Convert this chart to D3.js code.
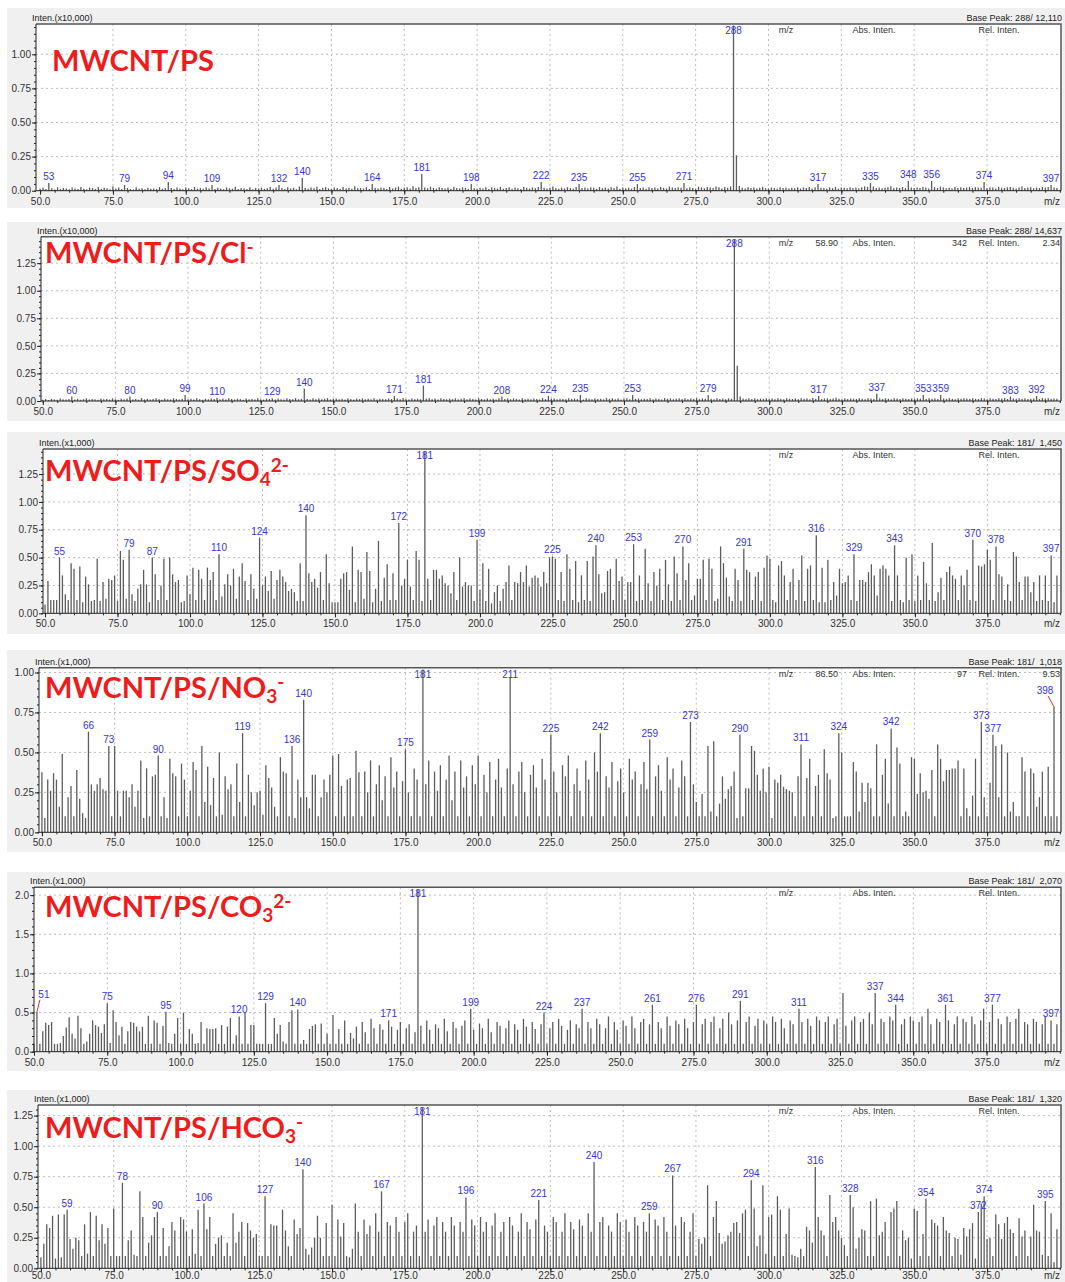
<!DOCTYPE html>
<html>
<head>
<meta charset="utf-8">
<script src="https://cdn.jsdelivr.net/npm/d3@7"></script>
<style>
  body { margin: 0; background: #fff; }
  svg { display: block; }
</style>
</head>
<body>
<div id="chart"></div>
<script>
// one bar per unit mass, first bar at m/z 50, last at 399 (absolute counts)
var MZ_START = 50;

var psInten = [
  150,220,120,560,180,90,250,130,200,160,
  110,240,170,130,280,150,100,230,190,120,
  260,140,210,180,110,300,160,240,130,420,
  200,120,90,250,150,180,110,220,140,170,
  120,260,150,190,640,200,130,240,160,110,
  230,180,120,270,150,200,140,250,170,420,
  130,210,160,110,240,180,150,290,120,200,
  170,130,250,110,200,160,230,140,180,280,
  150,240,420,190,130,260,170,220,110,300,
  930,200,150,240,180,290,130,210,260,170,
  140,230,190,120,270,160,210,140,330,180,
  200,150,260,130,490,220,170,240,190,120,
  280,160,230,300,140,210,250,170,330,200,
  260,1220,240,180,290,210,150,260,200,170,
  230,140,270,190,160,250,210,130,490,180,
  150,220,170,260,130,240,190,160,280,140,
  200,250,150,230,180,130,270,210,160,240,
  190,270,640,210,160,240,300,180,140,230,
  170,260,200,150,280,490,190,230,160,250,
  210,140,270,180,230,160,250,200,300,150,
  240,180,220,160,270,490,200,230,150,260,
  190,240,170,280,210,160,300,230,190,250,
  220,560,180,260,200,150,290,240,180,270,
  230,190,300,250,160,280,220,310,12110,2600,
  350,210,170,260,200,240,160,220,280,190,
  170,230,200,150,260,190,240,160,220,180,
  250,160,230,200,280,170,260,490,220,190,
  150,240,190,270,160,230,210,180,250,200,
  230,170,260,320,280,560,300,190,240,180,
  210,260,330,180,240,200,270,190,710,230,
  190,240,200,280,230,170,710,260,190,300,
  240,180,220,160,270,200,250,190,230,280,
  200,260,240,210,640,190,250,230,170,280,
  220,190,250,270,210,170,240,300,200,230,
  260,180,230,200,270,240,280,420,230,190
];

var clInten = [
  120,180,90,200,150,110,230,160,130,190,
  400,140,210,120,170,250,130,190,160,110,
  220,150,180,130,240,160,110,200,170,230,
  400,140,190,120,260,150,210,130,180,240,
  160,120,220,170,140,250,180,130,200,550,
  150,210,130,240,170,120,200,160,230,190,
  300,150,220,130,260,180,140,210,170,120,
  230,160,190,140,250,170,120,210,180,250,
  140,220,170,130,240,190,150,260,160,210,
  1100,180,130,240,170,220,150,200,260,140,
  190,230,160,210,140,250,180,130,220,170,
  240,150,200,170,260,130,210,190,160,230,
  180,450,220,150,270,190,140,230,170,210,
  160,1400,200,250,170,220,140,260,190,150,
  210,170,240,130,200,260,160,220,180,140,
  250,190,150,230,170,210,140,260,400,180,
  220,160,240,190,130,250,170,210,150,230,
  190,140,260,170,450,200,230,160,210,180,
  150,240,190,220,170,550,140,260,200,170,
  230,180,210,150,260,190,240,170,220,140,
  200,250,170,550,190,230,160,210,180,240,
  170,220,190,140,260,200,230,170,210,250,
  180,240,160,220,190,260,170,230,200,550,
  210,170,250,190,230,160,240,200,14637,3200,
  400,220,180,260,190,240,170,220,200,250,
  190,230,170,260,200,150,240,210,180,230,
  170,250,200,220,160,270,210,450,190,230,
  240,180,220,300,200,170,250,190,230,210,
  180,240,210,170,260,220,190,650,230,180,
  250,200,170,240,220,190,260,210,180,230,
  200,240,220,550,190,260,210,230,180,550,
  230,190,250,210,170,240,200,260,220,190,
  240,200,180,260,230,170,250,210,190,240,
  220,260,190,400,230,200,250,210,240,180,
  200,230,450,190,260,220,240,200,230,210
];

var so4Inten = [
  80,290,120,120,120,500,340,170,120,450,
  400,120,420,100,330,260,110,120,490,110,
  280,130,310,300,340,110,560,480,130,570,
  170,110,220,260,390,260,100,500,350,120,
  250,490,120,500,350,280,300,100,110,340,
  170,410,120,390,310,120,410,300,370,120,
  530,150,260,350,250,400,130,330,450,290,
  120,350,220,130,680,250,330,200,380,130,
  300,390,330,280,200,220,190,110,450,110,
  880,360,280,310,230,370,120,530,270,100,
  100,100,310,360,370,210,600,100,390,370,
  130,550,380,100,220,650,110,320,440,120,
  360,120,810,250,310,480,240,120,560,480,
  110,1450,310,120,390,390,310,340,270,250,
  180,370,120,500,240,280,250,250,110,660,
  210,450,110,400,90,190,250,110,220,280,
  430,120,280,270,370,280,430,240,320,340,
  320,240,370,270,500,510,490,120,370,110,
  530,400,120,470,100,340,120,470,110,510,
  610,350,180,190,380,400,120,490,290,330,
  120,280,280,620,110,340,120,580,270,110,
  370,250,400,120,480,260,110,510,360,120,
  600,300,450,120,160,310,310,480,120,490,
  400,110,130,600,450,320,150,110,400,300,
  110,580,390,370,120,330,370,110,410,520,
  490,120,100,430,470,340,120,280,400,120,
  300,520,110,400,430,120,700,100,410,100,
  480,120,280,160,400,270,280,340,120,530,
  110,300,300,280,370,440,340,160,400,430,
  400,340,110,610,340,120,100,500,120,530,
  110,340,120,460,270,120,630,110,190,320,
  120,370,420,340,310,120,340,250,390,120,
  660,110,430,420,440,570,480,120,600,350,
  330,120,260,110,550,510,280,120,330,330,
  190,280,110,340,120,340,110,520,100,340
];

var no3Inten = [
  375,90,330,260,370,330,160,490,100,220,
  290,100,390,210,120,90,630,300,260,300,
  340,270,260,540,100,540,260,100,260,260,
  220,300,160,260,450,90,400,100,350,360,
  480,100,220,90,460,370,350,100,430,330,
  100,260,440,390,100,540,190,410,170,340,
  100,500,110,350,270,300,100,430,190,620,
  100,360,250,170,250,260,110,420,340,280,
  160,100,470,380,370,100,540,90,330,220,
  830,220,150,360,360,100,220,330,250,360,
  480,100,490,290,100,330,340,100,510,375,
  100,380,250,450,100,300,420,200,350,100,
  470,280,380,100,320,520,250,100,400,330,
  100,1018,300,450,100,380,260,420,100,330,
  480,200,380,100,450,280,350,100,420,300,
  480,100,360,250,440,100,330,460,280,100,
  400,970,300,100,380,440,250,100,360,420,
  280,100,460,330,100,610,380,250,100,420,
  350,480,100,300,400,260,100,450,330,100,
  500,380,620,100,350,280,440,100,320,400,
  250,100,460,330,380,100,300,440,270,580,
  100,350,420,260,100,470,330,400,100,280,
  450,350,100,690,300,190,100,240,100,540,
  130,570,100,180,350,210,270,290,380,90,
  610,100,275,275,540,510,360,260,400,250,
  410,90,330,310,360,285,270,260,250,100,
  350,550,100,340,460,100,290,360,100,520,
  370,330,90,100,620,500,100,100,100,440,
  380,130,310,190,310,275,100,550,100,360,
  460,180,650,100,530,430,100,130,100,470,
  460,240,370,250,260,210,390,100,550,460,
  320,390,390,400,400,450,100,400,150,100,
  230,460,100,690,220,100,310,610,540,220,
  550,100,500,130,190,100,100,470,380,100,
  400,370,160,220,380,100,410,100,785,100
];

var co3Inten = [
  100,510,100,260,370,340,380,100,100,110,
  200,310,440,230,170,460,300,100,130,230,
  400,340,320,240,350,620,110,530,380,210,
  320,100,260,380,370,320,260,320,100,460,
  100,400,370,100,330,510,110,100,230,430,
  100,500,100,290,230,100,110,380,100,300,
  290,290,300,100,340,100,320,430,100,210,
  450,100,500,100,340,340,100,100,100,620,
  100,100,430,230,340,130,100,380,530,100,
  540,100,150,100,290,330,350,100,360,100,
  230,100,470,100,290,100,400,100,240,170,
  320,100,380,250,100,420,300,100,350,280,
  100,400,320,100,280,380,100,300,350,100,
  250,2070,330,100,400,280,100,350,300,100,
  420,260,100,380,300,100,330,400,100,550,
  280,100,360,300,100,420,250,100,380,330,
  100,300,400,100,350,280,100,420,320,100,
  380,290,100,350,500,100,300,380,100,420,
  330,100,280,400,100,350,300,550,100,380,
  300,100,420,350,100,300,450,100,380,280,
  100,400,330,100,450,300,100,380,420,100,
  350,600,100,380,300,100,450,330,100,400,
  350,100,420,300,100,380,600,100,350,420,
  100,380,450,100,300,420,100,500,350,100,
  400,650,100,380,450,100,330,420,100,400,
  350,100,450,380,100,420,300,100,400,350,
  100,550,380,100,420,330,100,450,400,100,
  380,450,100,350,420,100,750,330,100,400,
  450,100,380,420,100,500,350,750,100,420,
  380,100,450,400,600,100,350,420,100,450,
  400,100,380,450,100,550,350,100,420,380,
  100,600,400,100,350,450,100,420,380,100,
  450,350,100,400,550,100,380,600,100,420,
  350,100,450,380,100,420,550,100,380,350,
  100,420,380,100,350,450,100,400,100,350
];

var hco3Inten = [
  90,200,360,330,430,80,440,90,440,480,
  240,160,250,230,100,360,120,460,100,430,
  230,360,200,330,100,490,100,100,700,100,
  230,310,110,100,630,420,100,210,270,420,
  460,100,330,100,180,380,310,100,420,400,
  300,100,320,120,480,100,530,320,420,100,
  200,250,270,100,210,100,450,210,300,380,
  100,370,310,250,280,100,100,590,100,360,
  350,350,100,480,310,180,100,400,280,330,
  810,160,110,170,250,430,250,100,370,100,
  520,100,400,260,370,100,90,160,530,300,
  100,400,280,350,100,450,300,630,100,380,
  350,100,420,300,100,380,450,100,300,350,
  100,1320,300,400,100,350,420,100,380,300,
  100,420,350,100,380,300,580,100,400,350,
  100,420,300,380,100,350,450,100,300,380,
  100,420,350,100,300,450,100,380,320,100,
  400,560,100,350,300,100,420,380,100,300,
  450,100,380,320,100,400,350,100,450,300,
  870,100,380,420,100,350,300,100,450,380,
  100,400,300,100,420,350,100,380,300,450,
  100,400,350,100,420,300,100,760,350,100,
  420,380,100,300,450,100,240,200,250,680,
  100,420,550,290,200,220,270,300,370,380,
  290,450,480,100,720,490,180,270,680,120,
  420,440,100,590,480,100,280,490,110,100,
  90,160,100,340,310,210,830,420,310,270,
  100,600,380,420,310,250,190,100,600,500,
  160,250,320,310,100,550,100,570,270,300,
  380,100,460,490,550,100,310,230,250,80,
  490,470,100,280,570,100,400,370,350,100,
  420,310,290,100,250,240,110,330,260,320,
  370,80,460,530,590,240,250,100,440,360,
  240,370,420,320,290,100,410,260,310,100,
  260,520,310,300,110,550,100,450,50,320
];

// labelled peaks (m/z)
var psLabels = [53,79,94,109,132,140,164,181,198,222,235,255,271,288,317,335,348,356,374,397];
var clLabels = [60,80,99,110,129,140,171,181,208,224,235,253,279,288,317,337,353,359,383,392];
var so4Labels = [55,79,87,110,124,140,172,181,199,225,240,253,270,291,316,329,343,370,378,397];
var no3Labels = [66,73,90,119,136,140,175,181,211,225,242,259,273,290,311,324,342,373,377,398];
var co3Labels = [51,75,95,120,129,140,171,181,199,224,237,261,276,291,311,337,344,361,377,397];
var hco3Labels = [59,78,90,106,127,140,167,181,196,221,240,259,267,294,316,328,354,372,374,395];

// panel texts
var titleParts = [
  [["MWCNT/PS", 0]],
  [["MWCNT/PS/Cl", 0], ["-", 1]],
  [["MWCNT/PS/SO", 0], ["4", -1], ["2-", 1]],
  [["MWCNT/PS/NO", 0], ["3", -1], ["-", 1]],
  [["MWCNT/PS/CO", 0], ["3", -1], ["2-", 1]],
  [["MWCNT/PS/HCO", 0], ["3", -1], ["-", 1]]
];
var scaleText = ["Inten.(x10,000)", "Inten.(x10,000)", "Inten.(x1,000)", "Inten.(x1,000)", "Inten.(x1,000)", "Inten.(x1,000)"];
var scaleFactor = [10000, 10000, 1000, 1000, 1000, 1000];
var basePeakText = ["Base Peak: 288/ 12,110", "Base Peak: 288/ 14,637", "Base Peak: 181/  1,450",
                    "Base Peak: 181/  1,018", "Base Peak: 181/  2,070", "Base Peak: 181/  1,320"];
var cursorValues = [null, ["58.90", "342", "2.34"], null, ["86.50", "97", "9.53"], null, null];
var yTicks = [
  [0, 0.25, 0.5, 0.75, 1.0],
  [0, 0.25, 0.5, 0.75, 1.0, 1.25],
  [0, 0.25, 0.5, 0.75, 1.0, 1.25],
  [0, 0.25, 0.5, 0.75, 1.0],
  [0, 0.5, 1.0, 1.5, 2.0],
  [0, 0.25, 0.5, 0.75, 1.0, 1.25]
];
var yMax = [1.222, 1.49, 1.475, 1.03, 2.1, 1.337];
var xTicks = [50, 75, 100, 125, 150, 175, 200, 225, 250, 275, 300, 325, 350, 375];

var intenSeries = [psInten, clInten, so4Inten, no3Inten, co3Inten, hco3Inten];
var labelSeries = [psLabels, clLabels, so4Labels, no3Labels, co3Labels, hco3Labels];

// layout of each panel on the page
var layout = [
  {bgTop: 8,    bgBottom: 208,  left: 36, top: 24,    bottom: 190.7,  lo: 48.6, titleX: 52, titleY: 71,   pad: 3},
  {bgTop: 222,  bgBottom: 421,  left: 41, top: 236.7, bottom: 401,    lo: 49.4, titleX: 45, titleY: 263,  pad: 3},
  {bgTop: 432,  bgBottom: 634,  left: 43, top: 449,   bottom: 613.3,  lo: 49.3, titleX: 45, titleY: 481,  pad: 3},
  {bgTop: 650,  bgBottom: 852,  left: 39, top: 667.7, bottom: 832.3,  lo: 49.0, titleX: 45, titleY: 698,  pad: 3},
  {bgTop: 872,  bgBottom: 1071, left: 34, top: 887.3, bottom: 1051.7, lo: 50.0, titleX: 45, titleY: 917,  pad: 3},
  {bgTop: 1090, bgBottom: 1282, left: 38, top: 1105,  bottom: 1268.3, lo: 49.0, titleX: 45, titleY: 1138, pad: 0}
];
var RIGHT = 1061, MZ_MAX = 400.4;
// labels moved off their peak with a red leader line
var leaders = [{}, {}, {}, {398: {dx: -9, dy: -13, lx: -6, ly: -11}}, {51: {dx: 7, dy: -14, lx: 3, ly: -12}}, {}];

var axisFont = "'Liberation Sans', Arial, sans-serif";

var svg = d3.select("#chart").append("svg")
    .attr("width", 1065)
    .attr("height", 1282);

layout.forEach(function (L, i) { drawPanel(L, i); });

function drawPanel(L, i) {
    var g = svg.append("g");
    var scale = scaleFactor[i];

    var x = d3.scaleLinear().domain([L.lo, MZ_MAX]).range([L.left, RIGHT]);
    var y = d3.scaleLinear().domain([0, yMax[i]]).range([L.bottom, L.top]);

    g.append("rect")
        .attr("x", 7).attr("y", L.bgTop)
        .attr("width", 1065 - 7).attr("height", L.bgBottom - L.bgTop)
        .attr("fill", "#f0f0f0");
    g.append("rect")
        .attr("x", L.left).attr("y", L.top)
        .attr("width", RIGHT - L.left).attr("height", L.bottom - L.top)
        .attr("fill", "#fff");

    // dotted grid
    g.append("g").selectAll("line.h")
        .data(yTicks[i].filter(d => d > 0))
        .enter().append("line")
            .attr("x1", L.left).attr("x2", RIGHT)
            .attr("y1", d => y(d)).attr("y2", d => y(d))
            .attr("stroke", "#bdbdbd").attr("stroke-dasharray", "2,3");
    g.append("g").selectAll("line.v")
        .data(xTicks.filter(d => d > 60))
        .enter().append("line")
            .attr("x1", d => x(d)).attr("x2", d => x(d))
            .attr("y1", L.top).attr("y2", L.bottom)
            .attr("stroke", "#bdbdbd").attr("stroke-dasharray", "2,3");

    // header inside the plot
    var head = g.append("g").attr("font-family", axisFont).attr("font-size", 9).attr("fill", "#333");
    var hy = L.top + 9;
    head.append("text").attr("x", 786).attr("y", hy).attr("text-anchor", "middle").text("m/z");
    head.append("text").attr("x", 874).attr("y", hy).attr("text-anchor", "middle").text("Abs. Inten.");
    head.append("text").attr("x", 999).attr("y", hy).attr("text-anchor", "middle").text("Rel. Inten.");
    if (cursorValues[i]) {
        head.append("text").attr("x", 838).attr("y", hy).attr("text-anchor", "end").text(cursorValues[i][0]);
        head.append("text").attr("x", 967).attr("y", hy).attr("text-anchor", "end").text(cursorValues[i][1]);
        head.append("text").attr("x", 1060).attr("y", hy).attr("text-anchor", "end").text(cursorValues[i][2]);
    }

    // spectrum bars
    var bars = intenSeries[i].map(function (v, k) { return {mz: MZ_START + k, v: v / scale}; });
    g.append("g").selectAll("line")
        .data(bars)
        .enter().append("line")
            .attr("x1", d => x(d.mz)).attr("x2", d => x(d.mz))
            .attr("y1", y(0)).attr("y2", d => y(Math.min(d.v, yMax[i])))
            .attr("stroke", "#5c5c5c")
            .attr("stroke-width", 1.3);

    // frame
    g.append("path")
        .attr("d", "M" + L.left + "," + L.top + "H" + RIGHT + "V" + L.bottom)
        .attr("fill", "none").attr("stroke", "#555").attr("stroke-width", 1.5);

    // axes
    var yFmt = i === 4 ? d3.format(".1f") : d3.format(".2f");
    var minorStep = i === 4 ? 0.1 : 0.05;
    var yMinor = d3.range(0, yMax[i] + 1e-9, minorStep);
    g.append("g")
        .attr("transform", "translate(" + L.left + ",0)")
        .call(d3.axisLeft(y).tickValues(yMinor).tickSize(2).tickFormat(""))
        .call(a => a.select(".domain").remove());
    var ya = g.append("g")
        .attr("transform", "translate(" + L.left + ",0)")
        .call(d3.axisLeft(y).tickValues(yTicks[i]).tickSize(4).tickPadding(1).tickFormat(yFmt));
    ya.select(".domain").attr("d", "M0," + L.top + "V" + L.bottom);

    g.append("g")
        .attr("transform", "translate(0," + L.bottom + ")")
        .call(d3.axisBottom(x).tickValues(d3.range(50, 401, 5)).tickSize(2).tickFormat(""))
        .call(a => a.select(".domain").remove());
    var xa = g.append("g")
        .attr("transform", "translate(0," + L.bottom + ")")
        .call(d3.axisBottom(x).tickValues(xTicks).tickSize(4).tickPadding(L.pad).tickFormat(d3.format(".1f")));
    xa.select(".domain").attr("d", "M" + L.left + ",0H" + RIGHT);

    g.selectAll(".tick text").attr("font-family", axisFont).attr("font-size", 10).attr("fill", "#333");
    g.selectAll(".tick line").attr("stroke", "#222");
    g.selectAll(".domain").attr("stroke", "#222");

    g.append("text")
        .attr("x", 1052).attr("y", L.bottom + 11 + L.pad)
        .attr("text-anchor", "middle")
        .attr("font-family", axisFont).attr("font-size", 10).attr("fill", "#333")
        .text("m/z");

    // texts above the frame
    g.append("text")
        .attr("x", L.left - 4).attr("y", L.top - 3)
        .attr("font-family", axisFont).attr("font-size", 9).attr("fill", "#222")
        .text(scaleText[i]);
    g.append("text")
        .attr("x", 1062).attr("y", L.top - 3)
        .attr("text-anchor", "end")
        .attr("font-family", axisFont).attr("font-size", 9).attr("fill", "#222")
        .attr("xml:space", "preserve")
        .text(basePeakText[i]);

    // peak labels
    var lg = g.append("g").attr("font-family", axisFont).attr("font-size", 10).attr("fill", "#3535d8");
    labelSeries[i].forEach(function (mz) {
        var v = intenSeries[i][mz - MZ_START] / scale;
        var bx = x(mz), by = y(Math.min(v, yMax[i]));
        var lead = leaders[i][mz];
        if (lead) {
            lg.append("line")
                .attr("x1", bx + lead.lx).attr("y1", by + lead.ly)
                .attr("x2", bx).attr("y2", by)
                .attr("stroke", "#e03030").attr("stroke-width", 1);
            lg.append("text").attr("x", bx + lead.dx).attr("y", by + lead.dy)
                .attr("text-anchor", "middle").text(mz);
        } else {
            var ty = Math.max(by - 3, L.top + 10);
            lg.append("text").attr("x", bx).attr("y", ty)
                .attr("text-anchor", "middle").text(mz);
        }
    });

    // red sample title
    var t = g.append("text")
        .attr("x", L.titleX).attr("y", L.titleY)
        .attr("font-family", "Lato, 'Open Sans', sans-serif")
        .attr("font-weight", 700)
        .attr("font-size", 29)
        .attr("fill", "#ee1c1c");
    var shift = 0;
    titleParts[i].forEach(function (p) {
        var target = p[1] === -1 ? 5 : (p[1] === 1 ? -9 : 0);
        var ts = t.append("tspan").attr("dy", target - shift).text(p[0]);
        if (p[1] !== 0) ts.attr("font-size", 19);
        shift = target;
    });
}
</script>
</body>
</html>
